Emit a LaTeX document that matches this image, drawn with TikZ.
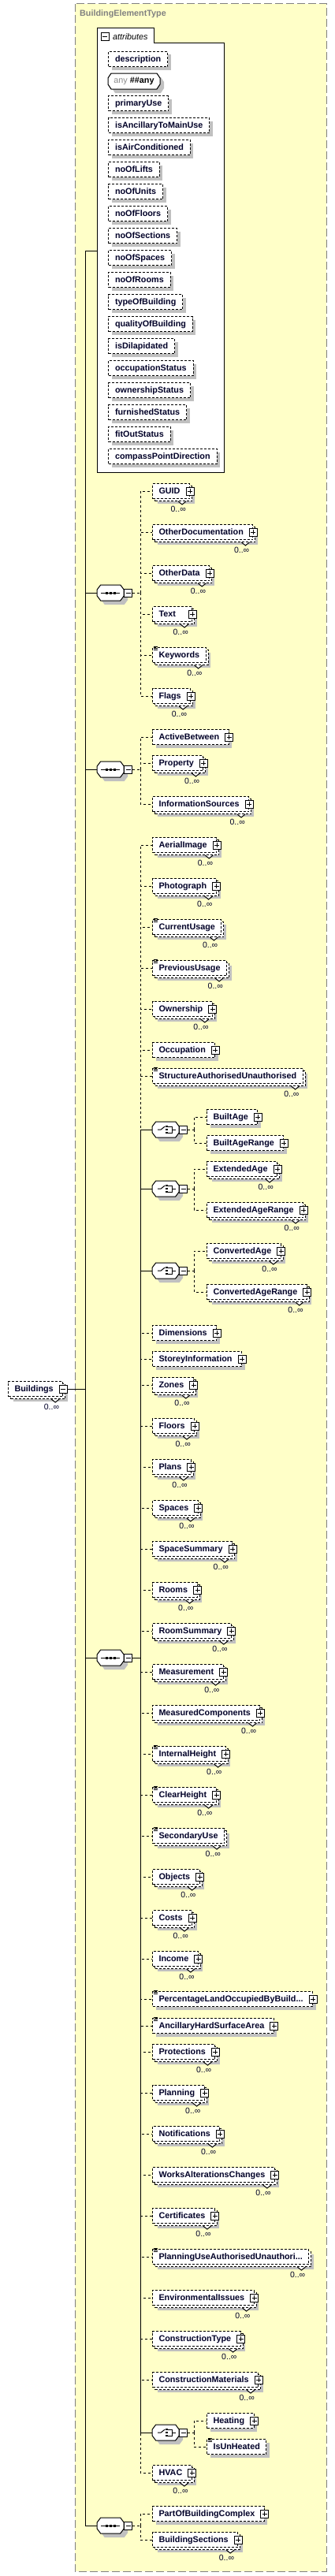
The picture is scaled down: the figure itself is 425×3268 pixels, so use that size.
\documentclass[tikz,border=0pt]{standalone}
\usepackage{fontspec}
\setmainfont{Liberation Sans}
\usetikzlibrary{calc}
\usetikzlibrary{shadows}
\pgfdeclarelayer{front}
\pgfsetlayers{main,front}

\newcommand\namefont{\fontsize{10.8}{12}\selectfont\bfseries}
\newcommand\occfont{\fontsize{10.5}{12}\selectfont}

\begin{document}
\begin{tikzpicture}[x=1pt,y=-1pt]
\definecolor{typecol}{RGB}{255,255,200}
\definecolor{shadowcol}{RGB}{192,192,192}
\definecolor{ink}{RGB}{0,0,40}
\colorlet{typeline}{black!50}
\tikzstyle{link}=[line width=1pt,solid]
\tikzstyle{optlink}=[line width=1pt,dash pattern=on 3pt off 3pt]
\tikzset{
  dashbox/.style={line width=1pt,dash pattern=on 3pt off 2pt},
  elem/.style={dashbox,draw,fill=white,text=ink,font=\namefont,anchor=west,
    inner xsep=8pt,inner ysep=0pt,minimum height=19pt,text height=8pt,text depth=1pt},
  single/.style={general shadow={fill=shadowcol,shadow xshift=4pt,shadow yshift=-4pt}},
  attr/.style={elem,single,inner xsep=8.5pt},
  rep/.style={
    general shadow={fill=shadowcol,shadow xshift=6pt,shadow yshift=-6pt},
    general shadow={dashbox,draw,fill=white,shadow xshift=3pt,shadow yshift=-3pt},
    label={[occ]south east:0..∞},
    append after command={\pgfextra{\begin{pgfonlayer}{front}
      \draw[link,fill=white] ([shift={(-15,3)}]\tikzlastnode.south east) -- ++(5,4) -- ++(5,-4);
      \end{pgfonlayer}}}},
  occ/.style={anchor=north east,inner sep=0pt,font=\occfont,text=ink,xshift=-5pt,yshift=-9pt},
  simple/.style={append after command={\pgfextra{\begin{pgfonlayer}{front}
      \draw[link,line width=.7pt]
        ([shift={(1.5,-0.5)}]\tikzlastnode.north west) -- ++(5,0)
        ([shift={(1.5,1.5)}]\tikzlastnode.north west) -- ++(5,0)
        ([shift={(1.5,3.5)}]\tikzlastnode.north west) -- ++(5,0);
      \end{pgfonlayer}}}},
  plus/.style={execute at end node={\hspace*{4pt}},
    append after command={\pgfextra{\begin{pgfonlayer}{front}
      \draw[link,fill=white] ([shift={(-5,-5)}]\tikzlastnode.east) rectangle ++(10,10);
      \draw[link] ([shift={(-3,0)}]\tikzlastnode.east) -- ++(6,0)
        ([shift={(0,-3)}]\tikzlastnode.east) -- ++(0,6);
      \end{pgfonlayer}}}},
  rp/.style={rep,plus}, rs/.style={rep,simple}, rsp/.style={rep,simple,plus},
  sp/.style={single,plus}, ss/.style={single,simple}, ssp/.style={single,simple,plus},
  rpw/.style={rep,plus,text width=34pt},
  collapse/.style={draw,solid,line width=1pt,fill=white,minimum size=10pt,inner sep=0pt,
    path picture={\draw[line width=1pt] ([xshift=2pt]path picture bounding box.west)
      -- ([xshift=-2pt]path picture bounding box.east);}},
  compositor/.style={minimum width=34pt,minimum height=20pt,inner sep=0pt,anchor=west},
  pics/octagon/.style 2 args={code={
    \fill[shadowcol,shift={(5,5)}] (-#1+#2,-10) -- (#1-#2,-10) -- (#1,-4) -- (#1,4)
      -- (#1-#2,10) -- (-#1+#2,10) -- (-#1,4) -- (-#1,-4) -- cycle;
    \draw[link,fill=white] (-#1+#2,-10) -- (#1-#2,-10) -- (#1,-4) -- (#1,4)
      -- (#1-#2,10) -- (-#1+#2,10) -- (-#1,4) -- (-#1,-4) -- cycle;}},
  pics/seqicon/.style={code={
    \draw[link] (-12,0) -- (12,0);
    \foreach \k in {-5,0,5} \fill (\k-1.5,-1.5) rectangle ++(3,3);}},
  pics/choiceicon/.style={code={
    \draw[link] (-10,0) -- (-6,0) -- (-1,-4);
    \foreach \k in {-4,0,4} \fill (0,\k-1.25) rectangle ++(2.5,2.5);
    \draw[link] (2.5,-4) -- (8,-4) -- (8,4) -- (2.5,4) (8,0) -- (13,0);}},
}
\def\trunkx{108}  % main content line
\def\busx{178}    % sequence children line
\def\elx{193}     % left edge of elements
\def\chx{246}     % choice children line
\def\subx{262}    % left edge of choice children

\useasboundingbox (0,0) rectangle (425,3268);

% COMPLEX TYPE
\draw[typeline,line width=1pt,dash pattern=on 10pt off 4pt,fill=typecol] (95,5) rectangle (414,3262);
\node[anchor=west,inner sep=0pt,text=black!50,font=\namefont] (typename) at (101,18) {BuildingElementType};

% ATTRIBUTES
\draw[link,fill=white] (123,36) -- (195,36) -- (195,55) -- (284,55) -- (284,599) -- (123,599) -- cycle;
\node[collapse] (attmin) at (133,46.5) {};
\node[anchor=west,inner sep=0pt,font=\fontsize{10.8}{12}\selectfont\itshape] (atttab) at (143,47) {attributes};
\node[attr] (description) at (137,75) {description};
\pic at (170,103) {octagon={33}{4}};
\node[font=\namefont,minimum width=66pt,minimum height=20pt,inner sep=0pt]
  (anyattr) at (170,103) {{\mdseries\color{black!45}any}\ \#\#any};
\foreach \a [count=\i from 2] in {primaryUse,isAncillaryToMainUse,isAirConditioned,noOfLifts,
  noOfUnits,noOfFloors,noOfSections,noOfSpaces,noOfRooms,typeOfBuilding,qualityOfBuilding,
  isDilapidated,occupationStatus,ownershipStatus,furnishedStatus,fitOutStatus,compassPointDirection}
  \node[attr] (\a) at (137,75+28*\i) {\a};

% SEQUENCES
\foreach \s/\y in {A/752,B/976,C/2103,D/3204}{
  \node[compositor] (seq\s) at (123,\y) {};
  \pic at (seq\s) {octagon={17}{4.5}};
  \pic at (seq\s) {seqicon};
  \node[collapse,anchor=west] (min\s) at (seq\s.east) {};
  \coordinate (bus\s) at (\busx,\y);
}
\coordinate (attL) at (123,318);
\coordinate (trunk) at (\trunkx,318);
\draw[link] (attL) -- (trunk) |- (seqD.west);
\foreach \s in {A,B,C}
  \draw[link] (seq\s.west) -- (seq\s.west -| trunk);
\draw[optlink] (minA.east) -- (busA);
\draw[optlink] (minB.east) -- (busB);
\draw[link] (minC.east) -- (busC);
\draw[optlink] (minD.east) -- (busD);

% CHOICES
\foreach \c/\y in {A/1433,B/1508,C/1612,D/3086}{
  \node[compositor] (ch\c) at (\elx,\y) {};
  \pic at (ch\c) {octagon={17}{4.5}};
  \pic at (ch\c) {choiceicon};
  \node[collapse,anchor=west] (cm\c) at (ch\c.east) {};
  \coordinate (cb\c) at (\chx,\y);
  \draw[link] (busC) |- (ch\c.west);
  \draw[optlink] (cm\c.east) -- (cb\c);
}

% ELEMENTS
\foreach \el/\y/\kind in {GUID/623/rp,OtherDocumentation/675/rp,OtherData/727/rp,
  Text/779/rpw,Keywords/831/rs,Flags/883/rp}{
  \node[elem,\kind] (\el) at (\elx,\y) {\el};
  \draw[optlink] (busA) |- (\el.west);
}
\foreach \el/\y/\kind in {ActiveBetween/935/sp,Property/968/rp,InformationSources/1020/rp}{
  \node[elem,\kind] (\el) at (\elx,\y) {\el};
  \draw[optlink] (busB) |- (\el.west);
}
\foreach \el/\y/\kind in {AerialImage/1072/rp,Photograph/1124/rp,CurrentUsage/1176/rs,
  PreviousUsage/1228/rs,Ownership/1280/rp,Occupation/1332/sp,
  StructureAuthorisedUnauthorised/1365/rs,Dimensions/1691/sp,StoreyInformation/1724/sp,
  Zones/1757/rp,Floors/1809/rp,Plans/1861/rp,Spaces/1913/rp,SpaceSummary/1965/rp,
  Rooms/2017/rp,RoomSummary/2069/rp,Measurement/2121/rp,MeasuredComponents/2173/rp,
  InternalHeight/2225/rsp,ClearHeight/2277/rsp,SecondaryUse/2329/rs,Objects/2381/rp,
  Costs/2433/rp,Income/2485/rp,AncillaryHardSurfaceArea/2570/ssp,Protections/2603/rp,
  Planning/2655/rp,Notifications/2707/rp,WorksAlterationsChanges/2759/rp,
  Certificates/2811/rp,EnvironmentalIssues/2915/rp,ConstructionType/2967/rp,
  ConstructionMaterials/3019/rp,HVAC/3137/rp}{
  \node[elem,\kind] (\el) at (\elx,\y) {\el};
  \draw[optlink] (busC) |- (\el.west);
}
\node[elem,ssp] (PercLand) at (\elx,2536) {PercentageLandOccupiedByBuild...};
\draw[optlink] (busC) |- (PercLand.west);
\node[elem,rs] (PlanUse) at (\elx,2863) {PlanningUseAuthorisedUnauthori...};
\draw[optlink] (busC) |- (PlanUse.west);
\foreach \el/\y/\kind/\c in {BuiltAge/1417/sp/A,BuiltAgeRange/1450/sp/A,
  ExtendedAge/1483/rp/B,ExtendedAgeRange/1535/rp/B,ConvertedAge/1587/rp/C,
  ConvertedAgeRange/1639/rp/C,Heating/3071/sp/D,IsUnHeated/3104/ss/D}{
  \node[elem,\kind] (\el) at (\subx,\y) {\el};
  \draw[optlink] (cb\c) |- (\el.west);
}
\foreach \el/\y/\kind in {PartOfBuildingComplex/3189/sp,BuildingSections/3222/rp}{
  \node[elem,\kind] (\el) at (\elx,\y) {\el};
  \draw[optlink] (busD) |- (\el.west);
}

% ROOT ELEMENT
\node[elem,rep,execute at end node={\hspace*{4pt}}] (Buildings) at (10,1762) {Buildings};
\node[collapse] (Bmin) at (Buildings.east) {};
\draw[link] (Bmin.east) -- (Bmin.east -| trunk);

\end{tikzpicture}
\end{document}
